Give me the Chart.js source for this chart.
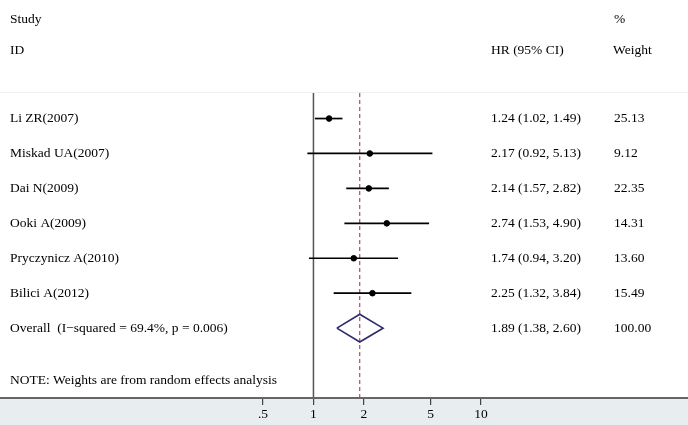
<!DOCTYPE html>
<html>
<head>
<meta charset="utf-8">
<script src="https://cdn.jsdelivr.net/npm/chart.js@4.4.1/dist/chart.umd.min.js"></script>
<style>
  body { margin: 0; background: #fff; }
  #wrap { width: 688px; height: 425px; position: relative; }
</style>
</head>
<body>
<div id="wrap"><canvas id="forest"></canvas></div>
<script>
// forest plot data
const studies = ['Li ZR(2007)', 'Miskad UA(2007)', 'Dai N(2009)', 'Ooki A(2009)', 'Pryczynicz A(2010)', 'Bilici A(2012)'];
const hr = [1.24, 2.17, 2.14, 2.74, 1.74, 2.25];
const lower = [1.02, 0.92, 1.57, 1.53, 0.94, 1.32];
const upper = [1.49, 5.13, 2.82, 4.90, 3.20, 3.84];
const weights = ['25.13', '9.12', '22.35', '14.31', '13.60', '15.49'];
const overall = { hr: 1.89, lo: 1.38, hi: 2.60, weight: '100.00' };
const overallLabel = 'Overall  (I\u2212squared = 69.4%, p = 0.006)';
const tickValues = [0.5, 1, 2, 5, 10];
const tickLabels = ['.5', '1', '2', '5', '10'];

const fmt = v => v.toFixed(2);
const FONT = '13.5px "Liberation Serif", "DejaVu Serif", serif';
const TOP = -0.73;   // row value where the plot lines start

const datasets = [];

// CI whiskers
studies.forEach((s, i) => {
    datasets.push({
        type: 'line',
        data: [{ x: lower[i], y: i }, { x: upper[i], y: i }],
        borderColor: '#000',
        borderWidth: 1.7,
        pointRadius: 0
    });
});

// point estimates
datasets.push({
    type: 'scatter',
    data: hr.map((v, i) => ({ x: v, y: i })),
    pointRadius: 2.8,
    pointBackgroundColor: '#000',
    pointBorderColor: '#000'
});

// overall diamond
const oy = studies.length;
const dh = 0.395;
datasets.push({
    type: 'line',
    data: [
        { x: overall.lo, y: oy }, { x: overall.hr, y: oy - dh },
        { x: overall.hi, y: oy }, { x: overall.hr, y: oy + dh },
        { x: overall.lo, y: oy }
    ],
    borderColor: '#2f2a6a',
    borderWidth: 1.7,
    pointRadius: 0,
    tension: 0
});

// null line and overall line
datasets.push({
    type: 'line',
    data: [{ x: 1, y: TOP }, { x: 1, y: 8 }],
    borderColor: '#555',
    borderWidth: 1.5,
    pointRadius: 0
});
datasets.push({
    type: 'line',
    data: [{ x: overall.hr, y: TOP }, { x: overall.hr, y: 8 }],
    borderColor: '#8b2e45',
    borderWidth: 1,
    borderDash: [4, 3],
    pointRadius: 0
});

const bandPlugin = {
    id: 'band',
    beforeDraw(chart) {
        const { ctx, chartArea } = chart;
        const y = chart.scales.y;
        ctx.save();
        ctx.fillStyle = '#fff';
        ctx.fillRect(0, 0, chart.width, chart.height);
        ctx.fillStyle = '#e8edf0';
        ctx.fillRect(0, chartArea.bottom, chart.width, chart.height - chartArea.bottom);
        // faint top rule of the plot region
        const ty = Math.round(y.getPixelForValue(TOP)) - 0.5;
        ctx.strokeStyle = '#f0f0f0';
        ctx.lineWidth = 1;
        ctx.beginPath();
        ctx.moveTo(0, ty);
        ctx.lineTo(chart.width, ty);
        ctx.stroke();
        ctx.restore();
    },
    afterDraw(chart) {
        const { ctx, chartArea } = chart;
        ctx.save();
        ctx.strokeStyle = '#666';
        ctx.lineWidth = 2;
        ctx.beginPath();
        ctx.moveTo(0, chartArea.bottom);
        ctx.lineTo(chart.width, chartArea.bottom);
        ctx.stroke();
        ctx.restore();
    }
};

const textPlugin = {
    id: 'tableText',
    afterDraw(chart) {
        const { ctx } = chart;
        const y = chart.scales.y;
        ctx.save();
        ctx.font = FONT;
        ctx.fillStyle = '#000';
        ctx.textBaseline = 'middle';
        ctx.textAlign = 'left';
        ctx.fillText('Study', 10, y.getPixelForValue(-2.85));
        ctx.fillText('ID', 10, y.getPixelForValue(-1.95));
        ctx.fillText('HR (95% CI)', 491, y.getPixelForValue(-1.95));
        ctx.fillText('%', 614, y.getPixelForValue(-2.85));
        ctx.fillText('Weight', 613, y.getPixelForValue(-1.95));
        studies.forEach((s, i) => {
            const py = y.getPixelForValue(i);
            ctx.fillText(s, 10, py);
            ctx.fillText(fmt(hr[i]) + ' (' + fmt(lower[i]) + ', ' + fmt(upper[i]) + ')', 491, py);
            ctx.fillText(weights[i], 614, py);
        });
        const py = y.getPixelForValue(oy);
        ctx.fillText(overallLabel, 10, py);
        ctx.fillText(fmt(overall.hr) + ' (' + fmt(overall.lo) + ', ' + fmt(overall.hi) + ')', 491, py);
        ctx.fillText(overall.weight, 614, py);
        ctx.fillText('NOTE: Weights are from random effects analysis', 10, y.getPixelForValue(7.49));
        ctx.restore();
    }
};

new Chart(document.getElementById('forest'), {
    data: { datasets: datasets },
    options: {
        responsive: true,
        maintainAspectRatio: false,
        animation: false,
        layout: { padding: 0 },
        plugins: { legend: { display: false }, tooltip: { enabled: false } },
        scales: {
            x: {
                type: 'logarithmic',
                position: 'bottom',
                min: Math.pow(10, -313 / 170),
                max: Math.pow(10, 375 / 170),
                afterBuildTicks: axis => { axis.ticks = tickValues.map(v => ({ value: v })); },
                afterFit: axis => { axis.height = 27; },
                grid: { drawOnChartArea: false, drawTicks: true, tickLength: 7, color: '#444', lineWidth: 1.2 },
                border: { display: false },
                ticks: {
                    autoSkip: false,
                    maxRotation: 0,
                    padding: 1,
                    color: '#000',
                    font: { family: '"Liberation Serif", serif', size: 13.5 },
                    callback: v => {
                        const k = tickValues.indexOf(v);
                        return k >= 0 ? tickLabels[k] : '';
                    }
                }
            },
            y: {
                type: 'linear',
                display: false,
                reverse: true,
                min: -3.25,
                max: 8
            }
        }
    },
    plugins: [bandPlugin, textPlugin]
});
</script>
</body>
</html>
